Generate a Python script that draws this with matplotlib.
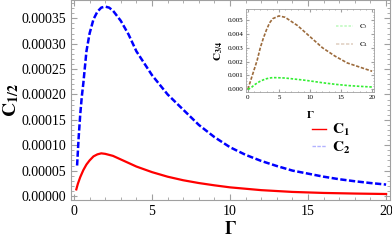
import matplotlib.pyplot as plt
from matplotlib.ticker import MultipleLocator, FormatStrFormatter

plt.rcParams['font.family'] = ['Liberation Serif', 'DejaVu Serif']
plt.rcParams['mathtext.fontset'] = 'stix'

# main curves
g_c2 = [0.2, 0.3, 0.4, 0.5, 0.6, 0.8, 1.0, 1.25, 1.5, 1.75, 2.0, 2.25, 2.5, 3.0, 3.5, 4.0,
        5.0, 6.0, 7.0, 8.0, 9.0, 10, 11, 12, 13, 14, 15, 16, 17, 18, 19, 20]
c2 = [6.0e-5, 1.15e-4, 1.60e-4, 1.95e-4, 2.22e-4, 2.85e-4, 3.20e-4, 3.48e-4, 3.63e-4, 3.71e-4,
      3.73e-4, 3.71e-4, 3.65e-4, 3.45e-4, 3.18e-4, 2.85e-4, 2.38e-4, 2.00e-4, 1.70e-4, 1.40e-4,
      1.16e-4, 9.6e-5, 8.1e-5, 6.9e-5, 5.9e-5, 5.0e-5, 4.4e-5, 3.8e-5, 3.3e-5, 2.9e-5, 2.55e-5, 2.25e-5]

g_c1 = [0.15, 0.25, 0.4, 0.6, 0.8, 1.0, 1.25, 1.5, 1.75, 2.0, 2.5, 3.0, 3.5, 4.0, 5.0, 6.0,
        7.0, 8.0, 9.0, 10, 12, 14, 16, 18, 20]
c1 = [1.3e-5, 2.4e-5, 3.7e-5, 5.1e-5, 6.2e-5, 7.0e-5, 7.8e-5, 8.2e-5, 8.4e-5, 8.3e-5, 7.9e-5,
      7.2e-5, 6.5e-5, 5.8e-5, 4.7e-5, 3.8e-5, 3.1e-5, 2.55e-5, 2.1e-5, 1.7e-5, 1.15e-5, 8.0e-6,
      6.0e-6, 4.8e-6, 3.9e-6]

# inset curves
g_in = [0, 0.5, 1, 1.5, 2, 2.5, 3, 3.5, 4, 5, 6, 7, 8, 9, 10, 12, 14, 16, 18, 20]
c4 = [0, 0.0007, 0.0014, 0.0021, 0.0030, 0.0037, 0.0043, 0.0048, 0.0051, 0.0053, 0.0052,
      0.0049, 0.0046, 0.0042, 0.0038, 0.0030, 0.0024, 0.0019, 0.0016, 0.0013]
c3 = [0, 0.0001, 0.0003, 0.00045, 0.00058, 0.00068, 0.00076, 0.00081, 0.00084, 0.00083,
      0.00081, 0.00076, 0.00071, 0.00066, 0.0006, 0.00047, 0.00036, 0.00027, 0.00021, 0.00016]

frame = '#a0a0a0'

fig = plt.figure(figsize=(3.92, 2.45), dpi=100)
ax = fig.add_axes([71/392, 45/245, 319/392, 200/245])
ax.plot(g_c1, c1, color='red', lw=1.6, label=r'$\mathbf{C_1}$')
ax.plot(g_c2, c2, color='blue', lw=1.8, ls=(0, (2.5, 1)), label=r'$\mathbf{C_2}$')
ax.set_xlim(-0.19, 20.25)
ax.set_ylim(-0.0000079, 0.000386)
ax.xaxis.set_major_locator(MultipleLocator(5))
ax.xaxis.set_minor_locator(MultipleLocator(1))
ax.yaxis.set_major_locator(MultipleLocator(0.00005))
ax.yaxis.set_minor_locator(MultipleLocator(0.00001))
ax.yaxis.set_major_formatter(FormatStrFormatter('%.5f'))
ax.tick_params(which='both', direction='in', top=True, right=True, color=frame, labelsize=10)
ax.tick_params(which='major', length=4)
ax.tick_params(which='minor', length=2)
for s in ax.spines.values():
    s.set_color(frame)
    s.set_linewidth(0.8)
ax.set_ylabel(r'$\mathbf{C_{1/2}}$', fontsize=14, labelpad=0)
ax.set_xlabel(r'$\mathbf{\Gamma}$', fontsize=13, labelpad=2)
leg = ax.legend(loc='upper left', bbox_to_anchor=(0.755, 0.39), frameon=False, fontsize=11,
                handlelength=0.9, handletextpad=0.4, labelspacing=0.1,
                borderpad=0, borderaxespad=0)
for ln in leg.get_lines():
    ln.set_linewidth(1.0)
leg.get_lines()[1].set_alpha(0.3)

ins = fig.add_axes([246/392, (245-92)/245, 128/392, 83/245])
ins.plot(g_in, c4, color='#9c6b3c', lw=1.2, ls=(0, (2, 1)), label=r'$\mathrm{C_4}$')
ins.plot(g_in, c3, color='#33ee33', lw=1.2, ls=(0, (1.5, 1)), label=r'$\mathrm{C_3}$')
ins.set_xlim(-0.3, 20.3)
ins.set_ylim(-0.0002, 0.0058)
ins.xaxis.set_major_locator(MultipleLocator(5))
ins.xaxis.set_minor_locator(MultipleLocator(1))
ins.yaxis.set_major_locator(MultipleLocator(0.001))
ins.yaxis.set_minor_locator(MultipleLocator(0.0002))
ins.yaxis.set_major_formatter(FormatStrFormatter('%.3f'))
ins.tick_params(which='both', direction='in', top=True, right=True, color=frame, labelsize=5, pad=2)
ins.tick_params(which='major', length=2)
ins.tick_params(which='minor', length=1)
for s in ins.spines.values():
    s.set_color(frame)
    s.set_linewidth(0.6)
ins.set_ylabel(r'$\mathbf{C_{3/4}}$', fontsize=8, labelpad=2)
ins.set_xlabel(r'$\mathbf{\Gamma}$', fontsize=8, labelpad=7)
h, l = ins.get_legend_handles_labels()
leg2 = ins.legend(h[::-1], l[::-1], loc='upper left', bbox_to_anchor=(0.7, 0.84), frameon=False,
                  fontsize=5, handlelength=2.5, labelspacing=1.3, borderpad=0, borderaxespad=0)
for ln in leg2.get_lines():
    ln.set_alpha(0.3)

fig.savefig('out.png', dpi=100)
